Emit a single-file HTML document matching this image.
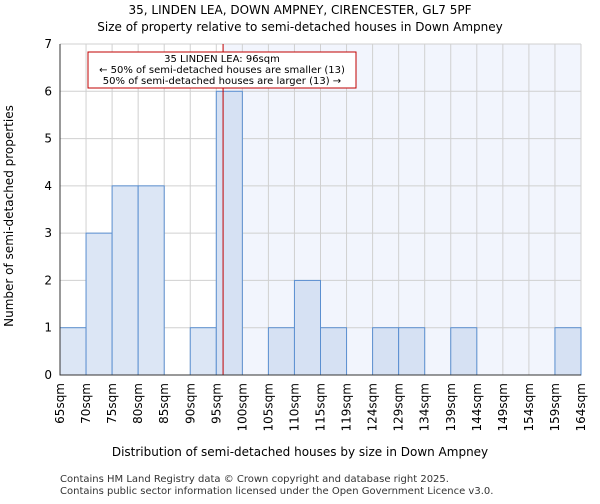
<!DOCTYPE html>
<html><head><meta charset="utf-8"><style>
body{margin:0;background:#fff;font-family:"DejaVu Sans","Liberation Sans",sans-serif;}
</style></head><body>
<svg width="600" height="500" xmlns="http://www.w3.org/2000/svg" font-family="DejaVu Sans, Liberation Sans, sans-serif">
<text x="300" y="14" text-anchor="middle" font-size="12">35, LINDEN LEA, DOWN AMPNEY, CIRENCESTER, GL7 5PF</text>
<text x="300" y="31" text-anchor="middle" font-size="12">Size of property relative to semi-detached houses in Down Ampney</text>
<g id="plot"></g>
<text x="300" y="456" text-anchor="middle" font-size="12">Distribution of semi-detached houses by size in Down Ampney</text>
<text x="13" y="216" text-anchor="middle" font-size="12" transform="rotate(-90 13 216)">Number of semi-detached properties</text>
<text x="60" y="482" font-size="10" fill="#333">Contains HM Land Registry data © Crown copyright and database right 2025.</text>
<text x="60" y="494" font-size="10" fill="#333">Contains public sector information licensed under the Open Government Licence v3.0.</text>
</svg>
<script>
const labels=["65sqm","70sqm","75sqm","80sqm","85sqm","90sqm","95sqm","100sqm","105sqm","110sqm","115sqm","119sqm","124sqm","129sqm","134sqm","139sqm","144sqm","149sqm","154sqm","159sqm","164sqm"];
const counts=[1,3,4,4,0,1,6,0,1,2,1,0,1,1,0,1,0,0,0,1];
const yTicks=[0,1,2,3,4,5,6,7];
const markerValue=96;
const binStart=65, binWidthSqm=5;
const X0=60,X1=581,Y0=375,Y1=44,yMax=7;
const n=counts.length,bw=(X1-X0)/n;
const xs=i=>X0+i*bw;
const ys=v=>Y0-(v/yMax)*(Y0-Y1);
const NS="http://www.w3.org/2000/svg";
const g=document.getElementById('plot');
function mk(t,a){const e=document.createElementNS(NS,t);for(const k in a)e.setAttribute(k,a[k]);g.appendChild(e);return e;}
const mx=xs(6+(markerValue-95)/binWidthSqm*1.3);
let e=mk('rect',{x:mx,y:Y1,width:X1-mx,height:Y0-Y1,fill:'#f2f5fd'});


yTicks.forEach(t=>{
 let l=mk('line',{x1:X0,x2:X1,y1:ys(t),y2:ys(t),stroke:'#d0d0d0'});
 
 
 let tx=mk('text',{x:X0-8,y:ys(t)+4,'text-anchor':'end','font-size':12});tx.textContent=t;
 
 
});
labels.forEach((lb,i)=>{
 const x=xs(i);
 let l=mk('line',{x1:x,x2:x,y1:Y1,y2:Y0,stroke:'#d0d0d0'});
 
 
 let tx=mk('text',{x:x+4,y:Y0+8,'text-anchor':'end','font-size':12,transform:`rotate(-90 ${x+4} ${Y0+8})`});tx.textContent=lb;
 
 
});
counts.forEach((c,i)=>{
 if(c<=0)return;
 let r=mk('rect',{x:xs(i),y:ys(c),width:bw,height:Y0-ys(c),fill:i>=6?'#d6e1f3':'#dce6f5',stroke:'#5b8fd0','stroke-width':1});
 
 
});
let ml=mk('line',{x1:mx,x2:mx,y1:Y1,y2:Y0,stroke:'#c00000','stroke-width':1});


let bx=mk('rect',{x:88,y:52,width:268,height:36,fill:'#fff',stroke:'#c00000'});


["35 LINDEN LEA: 96sqm","← 50% of semi-detached houses are smaller (13)","50% of semi-detached houses are larger (13) →"].forEach((s,i)=>{
 let t=mk('text',{x:222,y:62+i*11,'text-anchor':'middle','font-size':10});t.textContent=s;
 
 
});
let ax=mk('path',{d:`M${X0} ${Y1}V${Y0}H${X1}`,fill:'none',stroke:'#333'});


</script>
</body></html>
